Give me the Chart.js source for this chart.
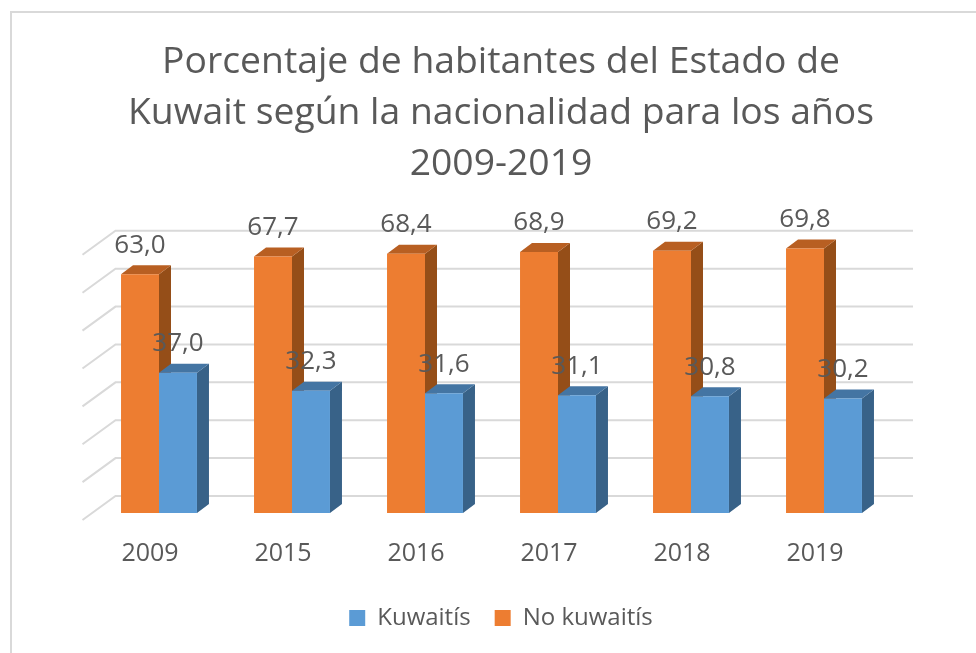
<!DOCTYPE html>
<html lang="es">
<head>
    <meta charset="UTF-8">
    <title>Porcentaje de habitantes del Estado de Kuwait</title>
    <script src="https://cdn.jsdelivr.net/npm/chart.js"></script>
    <style>
        html, body { margin: 0; padding: 0; background: #fff; overflow: hidden; }
        .frame { position: absolute; left: 10px; top: 11px; width: 976px; height: 653px; border: 2px solid #d9d9d9; box-sizing: border-box; }
        .chart-box { position: absolute; left: 0; top: 0; width: 976px; height: 653px; }
        canvas { filter: blur(0.5px); }
    </style>
</head>
<body>
    <div class="frame"></div>
    <div class="chart-box"><canvas id="grafico" width="976" height="653"></canvas></div>

    <script>
        // Datos
        const anios = ['2009', '2015', '2016', '2017', '2018', '2019'];
        const noKuwaities = [63.0, 67.7, 68.4, 68.9, 69.2, 69.8];
        const kuwaities = [37.0, 32.3, 31.6, 31.1, 30.8, 30.2];
        const tituloLineas = [
            'Porcentaje de habitantes del Estado de',
            'Kuwait según la nacionalidad para los años',
            '2009-2019'
        ];

        const fuente = '"Open Sans", sans-serif';
        // Colores de las caras laterales y superiores, por dataset
        const caras = [
            { lado: '#954e18', tapa: '#b85f22' },
            { lado: '#386288', tapa: '#4475a3' }
        ];
        // Profundidad de las barras y de la pared del fondo
        const prof = { dx: 12, dy: -9 };
        const pared = { dx: 23, dy: -17, frenteDx: -10, frenteDy: 7, finDerecha: 913 };

        function poligono(ctx, puntos, color) {
            ctx.fillStyle = color;
            ctx.beginPath();
            puntos.forEach((p, i) => i ? ctx.lineTo(p[0], p[1]) : ctx.moveTo(p[0], p[1]));
            ctx.closePath();
            ctx.fill();
        }

        const efecto3d = {
            id: 'efecto3d',
            beforeDatasetsDraw(chart) {
                const ctx = chart.ctx;
                const y = chart.scales.y;
                const area = chart.chartArea;

                // Rejilla: pared del fondo y línea inclinada del lateral
                ctx.save();
                ctx.strokeStyle = '#d9d9d9';
                ctx.lineWidth = 2;
                y.ticks.forEach((t, i) => {
                    const py = y.getPixelForTick(i);
                    ctx.beginPath();
                    ctx.moveTo(area.left + pared.frenteDx, py + pared.frenteDy);
                    ctx.lineTo(area.left + pared.dx, py + pared.dy);
                    ctx.lineTo(pared.finDerecha, py + pared.dy);
                    ctx.stroke();
                });

                // Caras laterales y superiores de cada barra
                chart.data.datasets.forEach((ds, d) => {
                    chart.getDatasetMeta(d).data.forEach(bar => {
                        const izq = bar.x - bar.width / 2;
                        const der = bar.x + bar.width / 2;
                        poligono(ctx, [[der, bar.y], [der + prof.dx, bar.y + prof.dy],
                            [der + prof.dx, bar.base + prof.dy], [der, bar.base]], caras[d].lado);
                        poligono(ctx, [[izq, bar.y], [izq + prof.dx, bar.y + prof.dy],
                            [der + prof.dx, bar.y + prof.dy], [der, bar.y]], caras[d].tapa);
                    });
                });
                ctx.restore();
            },
            afterDatasetsDraw(chart) {
                // Etiquetas de valor con coma decimal
                const ctx = chart.ctx;
                ctx.save();
                ctx.font = '26px ' + fuente;
                ctx.fillStyle = '#595959';
                ctx.textAlign = 'center';
                ctx.textBaseline = 'middle';
                chart.data.datasets.forEach((ds, d) => {
                    chart.getDatasetMeta(d).data.forEach((bar, i) => {
                        ctx.fillText(ds.data[i].toFixed(1).replace('.', ','), bar.x, bar.y - 29);
                    });
                });
                ctx.restore();
            }
        };

        new Chart(document.getElementById('grafico').getContext('2d'), {
            type: 'bar',
            data: {
                labels: anios,
                datasets: [
                    { label: 'No kuwaitís', data: noKuwaities, backgroundColor: '#ed7d31' },
                    { label: 'Kuwaitís', data: kuwaities, backgroundColor: '#5b9bd5' }
                ]
            },
            options: {
                responsive: false,
                animation: false,
                // título y leyenda quedan centrados en x=501, el área de barras se fija abajo
                layout: { padding: { left: 26, right: 0, top: 0, bottom: 13 } },
                datasets: { bar: { categoryPercentage: 0.571, barPercentage: 1 } },
                scales: {
                    x: {
                        grid: { display: false, drawTicks: false },
                        border: { display: false },
                        ticks: { color: '#595959', font: { family: fuente, size: 25 }, padding: 26, maxRotation: 0, labelOffset: -9 },
                        afterFit(scale) {
                            scale.height -= 13;
                            scale.paddingLeft = 92.5;
                            scale.paddingRight = 85.5;
                        }
                    },
                    y: {
                        min: 0,
                        max: 70,
                        grid: { display: false },
                        border: { display: false },
                        ticks: { display: false, stepSize: 10 },
                        afterFit(scale) { scale.width = 0; }
                    }
                },
                plugins: {
                    title: {
                        display: true,
                        text: tituloLineas,
                        color: '#595959',
                        font: { family: fuente, size: 37.3, weight: 'normal', lineHeight: 1.37 },
                        padding: { top: 36.5, bottom: 58 }
                    },
                    legend: {
                        position: 'bottom',
                        reverse: true,
                        labels: { color: '#595959', font: { family: fuente, size: 24 }, boxWidth: 16, boxHeight: 16, padding: 24 }
                    },
                    tooltip: { enabled: false }
                }
            },
            plugins: [efecto3d]
        });
    </script>
</body>
</html>
